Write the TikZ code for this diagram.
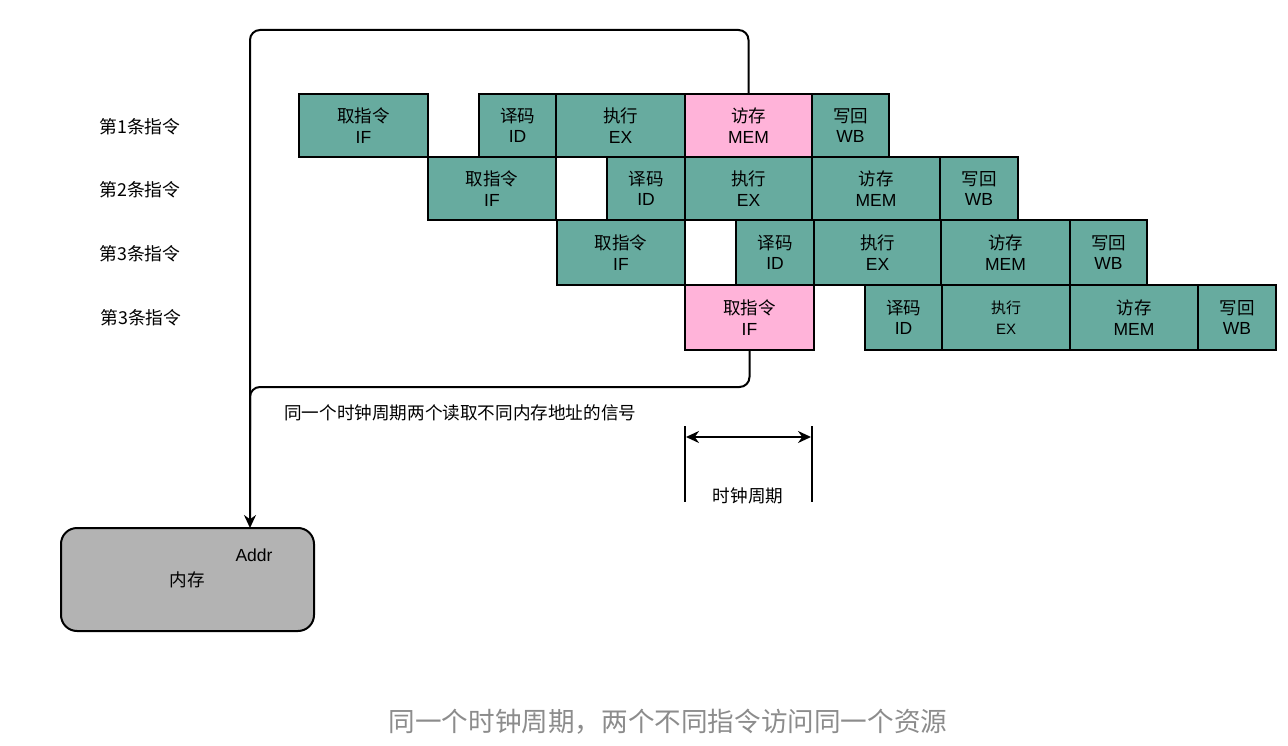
\documentclass[tikz,border=0pt]{standalone}
\usepackage{fontspec}
\setmainfont{Liberation Sans}
\newfontfamily\cjk{Noto Sans CJK SC}
\usetikzlibrary{arrows.meta}
\definecolor{stageteal}{HTML}{67AB9F}
\definecolor{stagepink}{HTML}{FFB3D9}
\definecolor{memgray}{HTML}{B3B3B3}
\definecolor{capgray}{HTML}{8C8C8C}
\newcommand\stg[8]{\node[stagebox, fill=#8, minimum width={(#3-#2)*1pt}, minimum height={(#5-#4)*1pt}] (#1) at ({(#2+#3)/2},{(#4+#5)/2}) {#6\\#7};}
\begin{document}
\begin{tikzpicture}[x=1pt,y=-1pt,
  stagebox/.style={draw=black, line width=2.2pt, inner sep=0pt, align=center, text=black, font=\fontsize{17.5}{20.5}\selectfont},
  rowlabel/.style={font=\cjk\fontsize{17.8}{20}\selectfont, text=black},
  wire/.style={draw=black, line width=2pt, rounded corners=10pt},
  tip/.style={-{Stealth[length=13pt,width=12pt]}},
  plain/.style={font=\cjk\fontsize{17.6}{20}\selectfont, text=black, inner sep=0pt}]
\useasboundingbox (0,0) rectangle (1288,746);

% row labels
\node[rowlabel] (r1) at (140,127) {第1条指令};
\node[rowlabel] (r2) at (140,190) {第2条指令};
\node[rowlabel] (r3) at (140,254) {第3条指令};
\node[rowlabel] (r4) at (141,318) {第3条指令};

% row 1
\stg{aif}{299}{428}{94}{157}{{\cjk 取指令}}{IF}{stageteal}
\stg{aid}{479}{556}{94}{157}{{\cjk 译码}}{ID}{stageteal}
\stg{aex}{556}{685}{94}{157}{{\cjk 执行}}{EX}{stageteal}
\stg{amem}{685}{812}{94}{157}{{\cjk 访存}}{MEM}{stagepink}
\stg{awb}{812}{889}{94}{157}{{\cjk 写回}}{WB}{stageteal}
% row 2
\stg{bif}{428}{556}{157}{220}{{\cjk 取指令}}{IF}{stageteal}
\stg{bid}{607}{685}{157}{220}{{\cjk 译码}}{ID}{stageteal}
\stg{bex}{685}{812}{157}{220}{{\cjk 执行}}{EX}{stageteal}
\stg{bmem}{812}{940}{157}{220}{{\cjk 访存}}{MEM}{stageteal}
\stg{bwb}{940}{1018}{157}{220}{{\cjk 写回}}{WB}{stageteal}
% row 3
\stg{cif}{557}{685}{220}{285}{{\cjk 取指令}}{IF}{stageteal}
\stg{cid}{736}{814}{220}{285}{{\cjk 译码}}{ID}{stageteal}
\stg{cex}{814}{941}{220}{285}{{\cjk 执行}}{EX}{stageteal}
\stg{cmem}{941}{1070}{220}{285}{{\cjk 访存}}{MEM}{stageteal}
\stg{cwb}{1070}{1147}{220}{285}{{\cjk 写回}}{WB}{stageteal}
% row 4
\stg{dif}{685}{814}{285}{350}{{\cjk 取指令}}{IF}{stagepink}
\stg{did}{865}{942}{285}{350}{{\cjk 译码}}{ID}{stageteal}
\stg{dex}{942}{1070}{285}{350}{{\cjk\fontsize{15}{18}\selectfont 执行}}{\fontsize{15}{18}\selectfont EX}{stageteal}
\stg{dmem}{1070}{1198}{285}{350}{{\cjk 访存}}{MEM}{stageteal}
\stg{dwb}{1198}{1276}{285}{350}{{\cjk 写回}}{WB}{stageteal}

% memory
\node[draw=black, line width=2pt, fill=memgray, rounded corners=16pt, minimum width=253pt, minimum height=103pt, inner sep=0pt] (mem) at (187.5,579.5) {};
\node[font=\fontsize{17.5}{20}\selectfont, inner sep=0pt] (addrlbl) at (254,555) {Addr};
\node[plain] (memlbl) at (187,580) {内存};
\coordinate (addr) at (250,528);

% wires
\coordinate (topc) at (250,30);
\coordinate (midc) at (250,387);
\draw[wire,tip] (amem.north) |- (topc) -- (addr);
\draw[wire] (dif.south) |- (midc) -- (250,430);

\node[plain, anchor=west] (sig) at (284,413) {同一个时钟周期两个读取不同内存地址的信号};

% clock period
\coordinate (ckl) at (685,426);
\coordinate (ckr) at (812,426);
\draw[line width=2pt] (ckl) -- ++(0,76);
\draw[line width=2pt] (ckr) -- ++(0,76);
\draw[line width=2pt, {Stealth[length=13pt,width=12pt]}-{Stealth[length=13pt,width=12pt]}] ([xshift=1pt,yshift=-11pt]ckl) -- ([xshift=-1pt,yshift=-11pt]ckr);
\node[plain] (cklbl) at (748,496) {时钟周期};

% caption
\node[font=\cjk\fontsize{26.6}{30}\selectfont, text=capgray] (cap) at (668,722) {同一个时钟周期，两个不同指令访问同一个资源};
\end{tikzpicture}
\end{document}
